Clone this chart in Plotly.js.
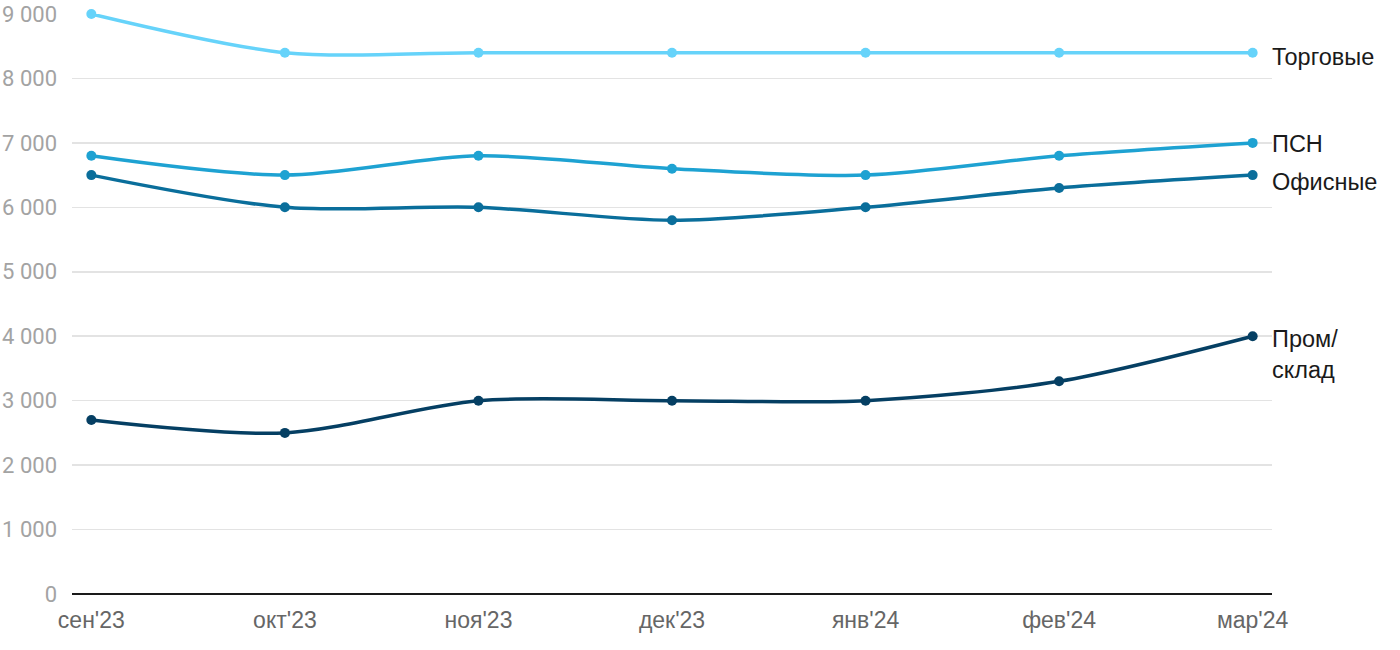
<!DOCTYPE html>
<html><head><meta charset="utf-8">
<script src="https://cdn.plot.ly/plotly-3.0.1.min.js"></script>
<style>html,body{margin:0;padding:0;background:#fff}#chart{width:1400px;height:650px}</style>
</head><body><div id="chart"></div>
<script>
const months = ["сен'23","окт'23","ноя'23","дек'23","янв'24","фев'24","мар'24"];
const torgovye = [9000, 8400, 8400, 8400, 8400, 8400, 8400];
const psn = [6800, 6500, 6800, 6600, 6500, 6800, 7000];
const ofisnye = [6500, 6000, 6000, 5800, 6000, 6300, 6500];
const promsklad = [2700, 2500, 3000, 3000, 3000, 3300, 4000];
const seriesNames = ["Торговые", "ПСН", "Офисные", "Пром/<br>склад"];
const seriesColors = ["#66d3fa", "#1ea2d2", "#0a6e9b", "#053f63"];
const seriesData = [torgovye, psn, ofisnye, promsklad];
const xIdx = months.map((m, i) => i);

const traces = seriesData.map((d, k) => ({
  x: xIdx, y: d, type: 'scatter', mode: 'lines+markers',
  line: {color: seriesColors[k], width: 3.5, shape: 'spline', smoothing: 0.85},
  marker: {color: seriesColors[k], size: 10},
  cliponaxis: false, hoverinfo: 'y', showlegend: false
}));

const yshifts = [-4, -1, -7, -18];
const annotations = seriesData.map((d, k) => ({
  xref: 'paper', yref: 'y', x: 1, y: d[d.length - 1],
  xanchor: 'left', yanchor: 'middle', align: 'left', xshift: -2, yshift: yshifts[k],
  text: seriesNames[k], showarrow: false,
  font: {family: '"Liberation Sans", Arial, sans-serif', size: 23.5, color: '#1a1a1a'}
}));

const layout = {
  width: 1400, height: 650,
  margin: {l: 72, r: 128, t: 14, b: 56},
  paper_bgcolor: '#fff', plot_bgcolor: '#fff',
  separators: ', ',
  font: {family: 'Roboto, Arial, sans-serif'},
  xaxis: {
    tickvals: xIdx, ticktext: months, range: [-0.1, 6.1],
    showgrid: false, zeroline: false, showline: false, ticks: '',
    ticklabelstandoff: 10,
    tickfont: {family: '"Liberation Sans", Arial, sans-serif', size: 23, color: '#666666'}, fixedrange: true
  },
  yaxis: {
    range: [0, 9000], tickvals: [0,1000,2000,3000,4000,5000,6000,7000,8000,9000],
    tickformat: ',d', showgrid: true, gridcolor: '#e3e3e3', gridwidth: 1.5,
    zeroline: true, zerolinecolor: '#1a1a1a', zerolinewidth: 2,
    ticks: '', ticklabelstandoff: 14,
    tickfont: {family: 'Roboto, Arial, sans-serif', size: 22, color: '#a3a3a3'}, fixedrange: true
  },
  annotations: annotations
};
Plotly.newPlot('chart', traces, layout, {displayModeBar: false, staticPlot: true});
</script></body></html>
